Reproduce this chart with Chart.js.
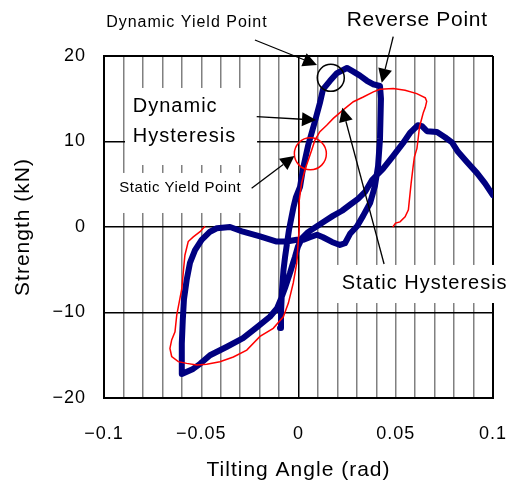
<!DOCTYPE html>
<html>
<head>
<meta charset="utf-8">
<style>
  html, body { margin: 0; padding: 0; background: #fff; }
  canvas { display: block; }
</style>
<script src="https://cdn.jsdelivr.net/npm/chart.js@4.4.1/dist/chart.umd.min.js"></script>
</head>
<body>
<canvas id="chart" width="516" height="484"></canvas>
<script>
// Dynamic hysteresis loop: tilting angle (rad) and strength (kN)
const dynamicAngle = [
  -0.0095, -0.009, -0.0085, -0.0077, -0.0069, -0.0059, -0.0049, -0.0039, -0.0026, -0.0013,
  0.0008, 0.0023, 0.0049, 0.0085, 0.011, 0.0126, 0.0162, 0.0198, 0.0249, 0.028,
  0.0316, 0.0352, 0.0383, 0.0419, 0.0424, 0.0419, 0.0409, 0.0393, 0.0368, 0.0332,
  0.0301, 0.0265, 0.0239, 0.0213, 0.0172, 0.0126, 0.0095, 0.0059, 0.0023, -0.0009,
  -0.0061, -0.0112, -0.0198, -0.0285, -0.0352, -0.042, -0.0455, -0.0498, -0.0532, -0.0558,
  -0.0575, -0.0589, -0.0595, -0.06, -0.06, -0.0542, -0.0506, -0.0455, -0.0368, -0.0285,
  -0.0213, -0.0147, -0.011, -0.009, -0.0069, -0.0044, -0.0028, -0.0018, -0.0003, 0.0018,
  0.0049, 0.0095, 0.0136, 0.0177, 0.0224, 0.0265, 0.0306, 0.0342, 0.0378, 0.0434,
  0.0486, 0.0537, 0.0573, 0.0614, 0.0635, 0.0661, 0.0712, 0.0753, 0.0789, 0.082,
  0.0866, 0.0918, 0.0959, 0.1
];
const dynamicStrength = [
  -11.8, -10.1, -7.4, -5.0, -3.5, -1.9, -0.35, 0.8, 2.3, 3.5,
  4.7, 6.8, 9.5, 12.4, 14.5, 16.1, 17.1, 18.0, 18.6, 18.2,
  17.7, 17.1, 16.7, 16.5, 15.0, 10.3, 7.1, 4.8, 2.8, 1.3,
  0.1, -0.8, -1.9, -2.1, -1.75, -1.2, -0.9, -1.2, -1.5, -1.5,
  -1.7, -1.7, -1.1, -0.55, 0, -0.15, -0.55, -1.5, -2.7, -4.2,
  -6.2, -8.5, -10.9, -13.6, -17.2, -16.6, -16.0, -15.0, -14.0, -13.0,
  -11.7, -10.5, -9.5, -8.4, -7.1, -5.4, -4.2, -3.5, -2.3, -1.3,
  -0.6, 0.1, 0.7, 1.3, 1.9, 2.6, 3.3, 4.1, 5.5, 6.8,
  8.3, 9.8, 11.0, 11.9, 11.8, 11.2, 11.1, 10.5, 9.9, 8.8,
  7.6, 6.3, 5.1, 3.7
];

// Static hysteresis loop
const staticAngle = [
  0.0485, 0.0499, 0.0522, 0.0548, 0.0565, 0.057, 0.0579, 0.0589, 0.0596, 0.0609,
  0.0616, 0.0622, 0.0635, 0.0642, 0.0652, 0.0659, 0.0652, 0.0608, 0.0548, 0.0487,
  0.0419, 0.0385, 0.0333, 0.0282, 0.023, 0.0179, 0.0145, 0.011, 0.0085, 0.0068,
  0.005, 0.0033, 0.0016, 0.0004, 0.0004, -0.0009, -0.0027, -0.0052, -0.0078, -0.013,
  -0.0198, -0.0266, -0.0335, -0.0404, -0.0472, -0.0523, -0.0575, -0.0618, -0.0652, -0.0661,
  -0.0652, -0.0635, -0.0626, -0.0613, -0.06, -0.0592, -0.0584, -0.0567, -0.0541, -0.0506,
  -0.049, -0.048
];
const staticStrength = [
  0.0, 0.45, 0.6, 1.2, 2.0, 3.15, 5.1, 7.0, 8.2, 9.2,
  10.5, 11.7, 12.8, 13.4, 14.0, 14.7, 15.1, 15.6, 16.0, 16.2,
  16.1, 15.8, 15.2, 14.65, 13.7, 12.7, 11.9, 11.15, 10.2, 9.0,
  7.8, 6.7, 5.15, 3.15, 0.0, -4.2, -6.55, -8.9, -10.5, -11.85,
  -12.8, -14.4, -15.2, -15.75, -16.05, -16.15, -15.95, -15.75, -15.15, -14.2,
  -13.2, -12.25, -10.3, -8.75, -7.2, -5.2, -3.3, -1.7, -1.15, -0.55,
  -0.15, 0.1
];

// Axis tick labels
const xTickValues = [-0.1, -0.05, 0, 0.05, 0.1];
const xTickLabels = ['\u22120.1', '\u22120.05', '0', '0.05', '0.1'];
const yTickValues = [-20, -10, 0, 10, 20];
const yTickLabels = ['\u221220', '\u221210', '0', '10', '20'];

// Callout texts, white label boxes, arrows and rings (in axis units)
const noteTexts = [
  { text: 'Dynamic Yield Point', x: -0.0989, y: 23.43, size: 16, spacing: 1 },
  { text: 'Reverse Point', x: 0.0248, y: 23.54, size: 21, spacing: 0.7 },
  { text: 'Dynamic', x: -0.0852, y: 13.49, size: 20, spacing: 1 },
  { text: 'Hysteresis', x: -0.0852, y: 10.0, size: 20, spacing: 1 },
  { text: 'Static Yield Point', x: -0.0921, y: 4.13, size: 15, spacing: 0.5 },
  { text: 'Static Hysteresis', x: 0.0222, y: -7.29, size: 20, spacing: 1 }
];
const noteBoxes = [
  { x0: -0.0892, x1: -0.0213, y0: 16.26, y1: 7.25 },
  { x0: -0.0928, x1: -0.026, y0: 6.32, y1: 1.64 },
  { x0: 0.0188, x1: 0.1118, y0: -4.44, y1: -8.89 }
];
const noteArrows = [
  { x0: -0.0224, y0: 21.87, x1: 0.0095, y1: 18.95 },
  { x0: 0.0487, y0: 22.26, x1: 0.0428, y1: 16.88 },
  { x0: -0.0215, y0: 12.9, x1: 0.009, y1: 12.51 },
  { x0: -0.0241, y0: 4.53, x1: -0.0021, y1: 8.3 },
  { x0: 0.044, y0: -4.33, x1: 0.0225, y1: 13.95 }
];
const noteRings = [
  { x: 0.0166, y: 17.45, r: 13.5, color: '#000000' },
  { x: 0.0061, y: 8.56, r: 16, color: '#ff0000' }
];

const FONT = '"Liberation Sans", Arial, Helvetica, sans-serif';

function toPoints(xs, ys) {
  return xs.map((v, i) => ({ x: v, y: ys[i] }));
}

function labelFor(values, labels, v) {
  const i = values.findIndex(t => Math.abs(t - v) < 1e-9);
  return i < 0 ? '' : labels[i];
}

const calloutPlugin = {
  id: 'callouts',
  beforeDraw(chart) {
    chart.ctx.letterSpacing = '1px';
  },
  beforeDatasetsDraw(chart) {
    const { ctx, scales: { x, y } } = chart;
    ctx.save();
    ctx.fillStyle = '#ffffff';
    noteBoxes.forEach(b => {
      const a = x.getPixelForValue(b.x0), c = x.getPixelForValue(b.x1);
      const d = y.getPixelForValue(b.y0), e = y.getPixelForValue(b.y1);
      ctx.fillRect(Math.min(a, c), Math.min(d, e), Math.abs(c - a), Math.abs(e - d));
    });
    ctx.restore();
  },
  afterDatasetsDraw(chart) {
    const { ctx, scales: { x, y } } = chart;
    ctx.save();
    // rings
    noteRings.forEach(r => {
      ctx.beginPath();
      ctx.strokeStyle = r.color;
      ctx.lineWidth = 1.5;
      ctx.arc(x.getPixelForValue(r.x), y.getPixelForValue(r.y), r.r, 0, Math.PI * 2);
      ctx.stroke();
    });
    // arrows
    noteArrows.forEach(a => {
      const sx = x.getPixelForValue(a.x0), sy = y.getPixelForValue(a.y0);
      const tx = x.getPixelForValue(a.x1), ty = y.getPixelForValue(a.y1);
      const len = Math.hypot(tx - sx, ty - sy);
      const ux = (tx - sx) / len, uy = (ty - sy) / len;
      const head = 14, half = 7;
      const bx = tx - ux * head, by = ty - uy * head;
      ctx.beginPath();
      ctx.strokeStyle = '#000';
      ctx.lineWidth = 1.3;
      ctx.moveTo(sx, sy);
      ctx.lineTo(bx, by);
      ctx.stroke();
      ctx.beginPath();
      ctx.fillStyle = '#000';
      ctx.moveTo(tx, ty);
      ctx.lineTo(bx - uy * half, by + ux * half);
      ctx.lineTo(bx + uy * half, by - ux * half);
      ctx.closePath();
      ctx.fill();
    });
    // texts
    ctx.fillStyle = '#000';
    ctx.textAlign = 'left';
    ctx.textBaseline = 'alphabetic';
    noteTexts.forEach(t => {
      ctx.font = t.size + 'px ' + FONT;
      ctx.letterSpacing = t.spacing + 'px';
      ctx.fillText(t.text, x.getPixelForValue(t.x), y.getPixelForValue(t.y));
    });
    ctx.restore();
  }
};

const isEdge = v => Math.abs(Math.abs(v) - 0.1) < 1e-9;

new Chart(document.getElementById('chart'), {
  type: 'scatter',
  data: {
    datasets: [
      {
        label: 'Dynamic Hysteresis',
        data: toPoints(dynamicAngle, dynamicStrength),
        showLine: true,
        borderColor: '#000080',
        borderWidth: 6,
        borderJoinStyle: 'round',
        borderCapStyle: 'round',
        pointRadius: 0,
        tension: 0,
        order: 1
      },
      {
        label: 'Static Hysteresis',
        data: toPoints(staticAngle, staticStrength),
        showLine: true,
        borderColor: '#ff0000',
        borderWidth: 1.5,
        pointRadius: 0,
        tension: 0,
        order: 0
      }
    ]
  },
  options: {
    responsive: false,
    animation: false,
    devicePixelRatio: 1,
    layout: { padding: { top: 56, right: 23, bottom: 0, left: 0 } },
    plugins: { legend: { display: false }, tooltip: { enabled: false } },
    scales: {
      x: {
        type: 'linear',
        min: -0.1,
        max: 0.1,
        afterFit(scale) {
          scale.height = 86;
          scale.paddingLeft = 0;
          scale.paddingRight = 0;
        },
        ticks: {
          stepSize: 0.01,
          autoSkip: false,
          maxRotation: 0,
          padding: 25,
          color: '#000',
          font: { family: FONT, size: 18 },
          callback: v => labelFor(xTickValues, xTickLabels, v)
        },
        grid: {
          drawTicks: false,
          color: c => (c.tick && (Math.abs(c.tick.value) < 1e-9 || isEdge(c.tick.value))) ? '#000000' : '#808080',
          lineWidth: c => (c.tick && isEdge(c.tick.value)) ? 2 : 1.5
        },
        border: { color: '#000', width: 2 },
        title: {
          display: true,
          text: 'Tilting Angle (rad)',
          color: '#000',
          font: { family: FONT, size: 21 },
          padding: { top: 0, bottom: 1 }
        }
      },
      y: {
        type: 'linear',
        min: -20,
        max: 20,
        afterFit(scale) {
          scale.width = 104;
          scale.paddingTop = 0;
          scale.paddingBottom = 0;
        },
        ticks: {
          stepSize: 10,
          padding: 18,
          color: '#000',
          font: { family: FONT, size: 18 },
          callback: v => labelFor(yTickValues, yTickLabels, v)
        },
        grid: {
          drawTicks: false,
          color: '#000',
          lineWidth: c => (c.tick && c.tick.value === 20) ? 2 : 1.5
        },
        border: { color: '#000', width: 2 },
        title: {
          display: true,
          text: 'Strength (kN)',
          color: '#000',
          font: { family: FONT, size: 21 },
          padding: { top: 11, bottom: 0 }
        }
      }
    }
  },
  plugins: [calloutPlugin]
});
</script>
</body>
</html>
